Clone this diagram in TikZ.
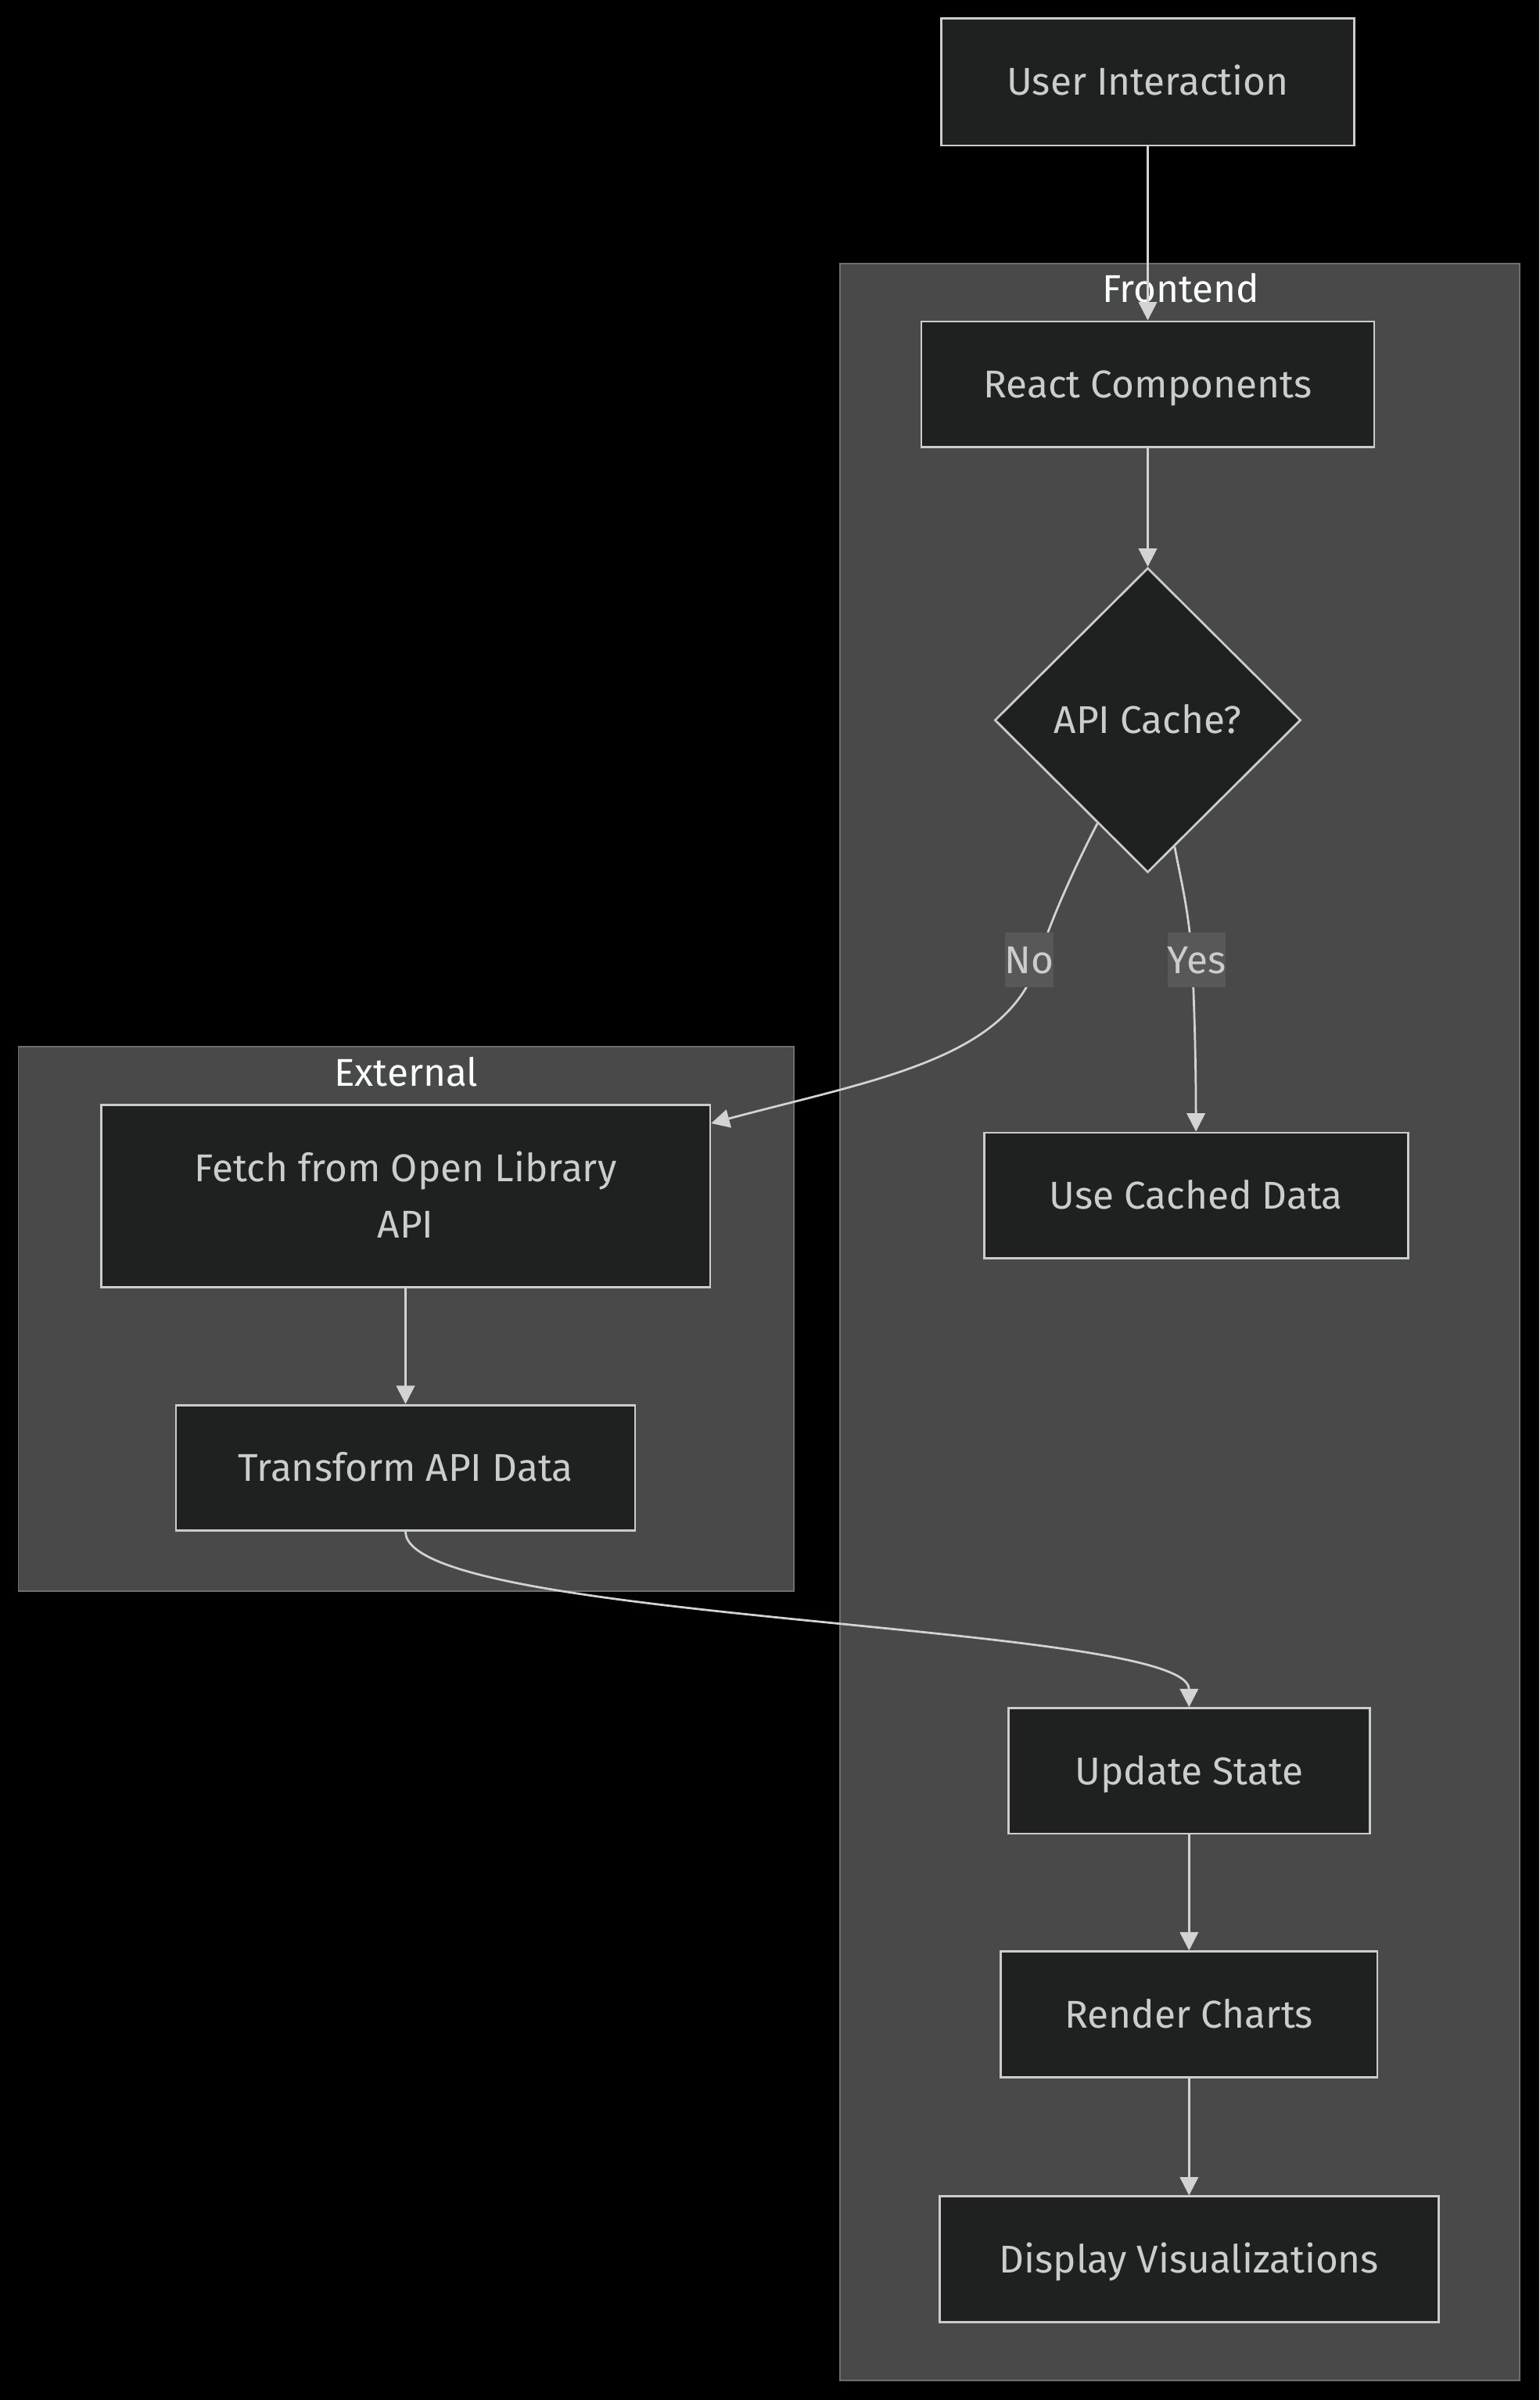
\documentclass[tikz,border=0pt]{standalone}
\usepackage{fontspec}
\setmainfont{Fira Sans}
\usetikzlibrary{shapes.geometric, arrows.meta, positioning}
\definecolor{back1}{RGB}{0, 0, 0}
\definecolor{group1}{RGB}{72, 73, 72}
\definecolor{groupline1}{RGB}{110, 110, 110}
\definecolor{box1}{RGB}{31, 32, 32}
\definecolor{boxline1}{RGB}{204, 204, 204}
\definecolor{text1}{RGB}{204, 204, 204}
\definecolor{title1}{RGB}{249, 255, 254}
\definecolor{edge1}{RGB}{211, 211, 211}
\definecolor{tag1}{RGB}{88, 88, 88}

\begin{document}
\begin{tikzpicture}[
  pbox/.style={draw=boxline1, fill=box1, line width=2pt, text=text1, font=\fontsize{36}{52}\selectfont, inner sep=0pt, minimum height=4.1cm, text height=25pt, text depth=0pt},
  decide/.style={diamond, aspect=1, draw=boxline1, fill=box1, line width=2pt, text=text1, font=\fontsize{36}{52}\selectfont, inner sep=0pt, minimum width=10cm, minimum height=9.95cm, text height=25pt, text depth=0pt},
  group/.style={draw=groupline1, fill=group1, line width=1.4pt},
  gtitle/.style={text=title1, font=\fontsize{36}{52}\selectfont, anchor=base, inner sep=0pt},
  etag/.style={fill=tag1, text=text1, font=\fontsize{36}{52}\selectfont, inner sep=0pt, minimum height=1.8cm, text height=25pt, text depth=0pt},
  flow/.style={draw=edge1, line width=2pt, -{Triangle[length=17pt, width=17pt]}}
]
  \fill[back1] (0, 0) rectangle (50.3, -78.4);

  \draw[group] (27.45, -8.6) rectangle (49.65, -77.75);
  \draw[group] (0.6, -34.19) rectangle (25.94, -51.97);
  \node[gtitle] (frontendtitle) at (38.58, -9.88) {Frontend};
  \node[gtitle] (externaltitle) at (13.27, -35.48) {External};

  \node[pbox, minimum width=13.5cm, minimum height=4.15cm] (ui) at (37.5, -2.675) {User Interaction};
  \node[pbox, minimum width=14.8cm] (react) at (37.5, -12.55) {React Components};
  \node[decide] (cache) at (37.5, -23.525) {API Cache?};
  \node[pbox, minimum width=13.85cm] (cached) at (39.075, -39.05) {Use Cached Data};
  \node[pbox, minimum width=19.9cm, minimum height=5.95cm, align=center, text height=77pt] (fetch) at (13.25, -39.075) {Fetch from Open Library\\API};
  \node[pbox, minimum width=15cm] (transform) at (13.25, -47.95) {Transform API Data};
  \node[pbox, minimum width=11.8cm] (update) at (38.85, -57.85) {Update State};
  \node[pbox, minimum width=12.3cm] (render) at (38.85, -65.8) {Render Charts};
  \node[pbox, minimum width=16.3cm] (display) at (38.85, -73.8) {Display Visualizations};

  \draw[flow] (ui.south) -- (react.north);
  \draw[flow] (react.south) -- (cache.north);
  \draw[flow] (cache.244) .. controls (35.27, -28.02) and (34.37, -29.91) .. (33.93, -31.35)
    node[etag, minimum width=1.45cm, xshift=-0.3cm] (no) {No}
    .. controls (32.94, -34.59) and (28.65, -35.25) .. ([yshift=-0.63cm]fetch.north east);
  \draw[flow] (cache.282) .. controls (38.55, -28.6) and (38.85, -29.75) .. (38.95, -31.35)
    node[etag, minimum width=1.75cm, xshift=0.15cm] (yes) {Yes}
    .. controls (39.03, -33) and (39.075, -35) .. (cached.north);
  \draw[flow] (fetch.south) -- (transform.north);
  \draw[flow] (transform.south) .. controls (13.25, -53) and (38.85, -53) .. (update.north);
  \draw[flow] (update.south) -- (render.north);
  \draw[flow] (render.south) -- (display.north);
\end{tikzpicture}
\end{document}
